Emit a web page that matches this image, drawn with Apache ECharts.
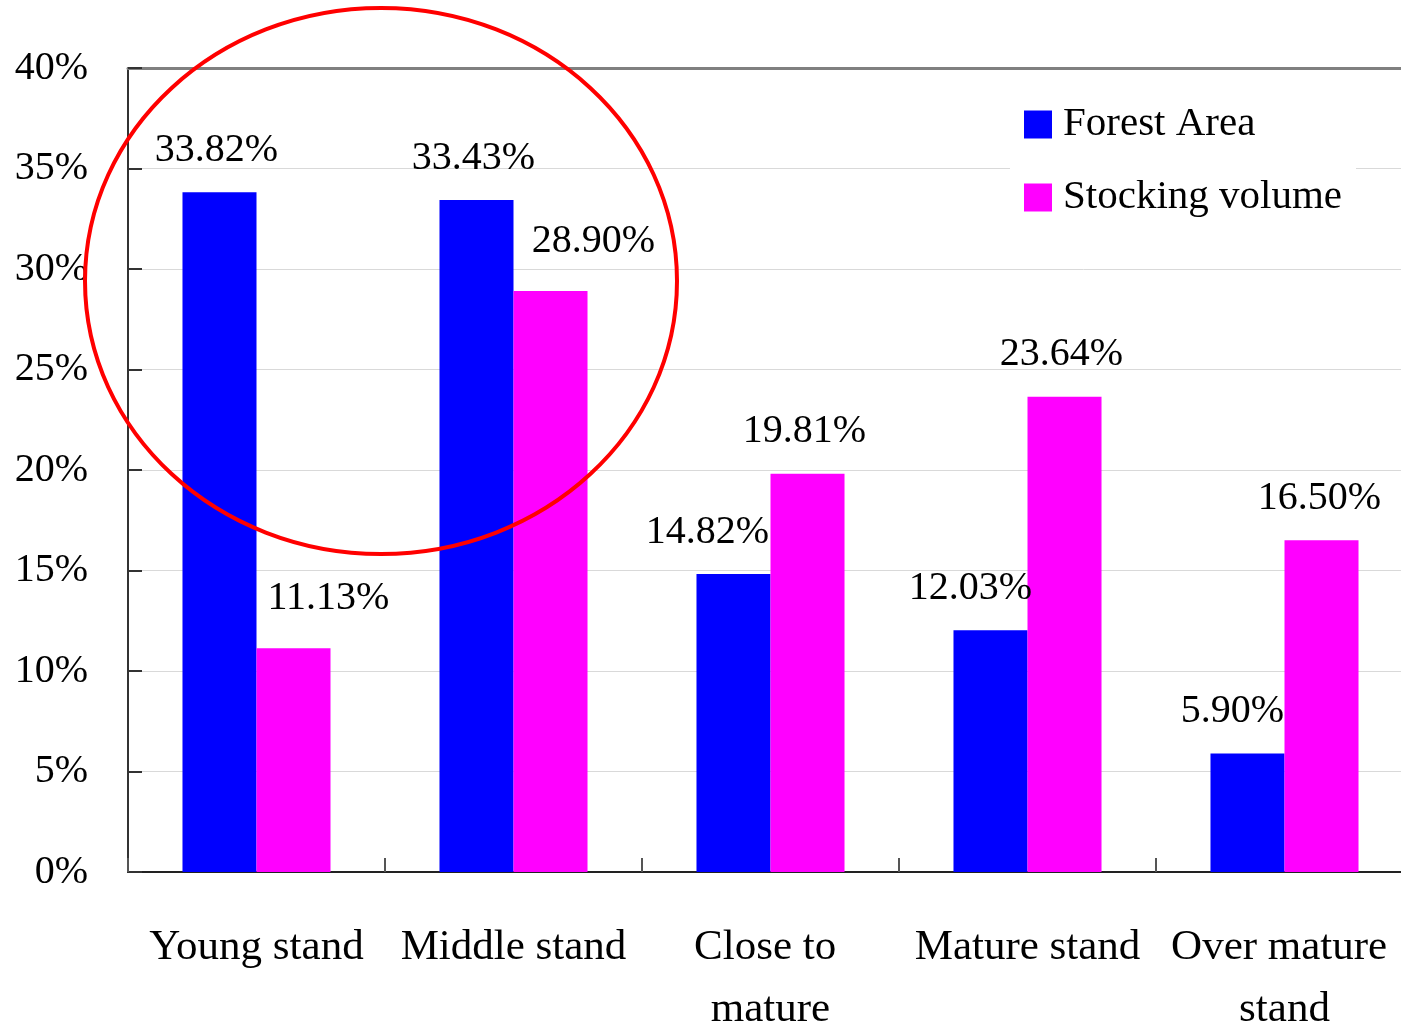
<!DOCTYPE html>
<html>
<head>
<meta charset="utf-8">
<script src="https://cdn.jsdelivr.net/npm/echarts@6/dist/echarts.min.js"></script>
<style>
html,body{margin:0;padding:0;background:#fff;overflow:hidden;}
#chart{width:1401px;height:1027px;}
</style>
</head>
<body>
<div id="chart"></div>
<script>
var categories = ['Young stand', 'Middle stand', 'Close to mature', 'Mature stand', 'Over mature stand'];
var forestArea = [33.82, 33.43, 14.82, 12.03, 5.90];
var stockingVolume = [11.13, 28.90, 19.81, 23.64, 16.50];
var seriesNames = ['Forest Area', 'Stocking volume'];
var yTicks = [0, 5, 10, 15, 20, 25, 30, 35, 40];

// label nudges (presentation only)
var forestLabelDx = [-3, -3, -26, -20, -15];
var forestLabelDy = [0, 0, 0, 0, 0];
var stockLabelDx = [35, 43, -3, -3, -2];
var stockLabelDy = [-8, -8, 0, 0, 0];

var FONT = '"Liberation Serif", "Times New Roman", serif';

function mkData(vals, dx, dy) {
  return vals.map(function (v, i) {
    return { value: v, label: { offset: [dx[i], dy[i]] } };
  });
}

var chart = echarts.init(document.getElementById('chart'), null, { renderer: 'canvas', width: 1401, height: 1027 });

var labelCommon = {
  show: true,
  position: 'top',
  distance: 22,
  fontFamily: FONT,
  fontSize: 40,
  color: '#000',
  formatter: function (p) { return p.value.toFixed(2) + '%'; }
};

chart.setOption({
  backgroundColor: '#fff',
  animation: false,
  grid: { left: 128, top: 68, width: 1285, height: 804, containLabel: false, outerBoundsMode: 'none' },
  legend: {
    orient: 'vertical',
    left: 1010,
    top: 89,
    padding: [15, 14, 15, 14],
    backgroundColor: '#fff',
    itemWidth: 28,
    itemHeight: 28,
    itemGap: 32,
    icon: 'rect',
    data: seriesNames,
    textStyle: { fontFamily: FONT, fontSize: 41, color: '#000', padding: [4, 0, 0, 6] }
  },
  xAxis: [{
    type: 'category',
    data: categories,
    position: 'bottom',
    axisLine: { lineStyle: { color: '#222', width: 2 } },
    axisTick: { show: true, inside: true, length: 14, alignWithLabel: false, lineStyle: { color: '#555', width: 2 } },
    axisLabel: {
      interval: 0,
      margin: 45,
      fontFamily: FONT,
      fontSize: 43,
      color: '#000',
      lineHeight: 62,
      width: 245,
      overflow: 'break'
    },
    splitLine: { show: false }
  }, {
    type: 'category',
    data: categories,
    position: 'top',
    axisLine: { show: true, lineStyle: { color: '#808080', width: 3 } },
    axisTick: { show: false },
    axisLabel: { show: false },
    splitLine: { show: false }
  }],
  yAxis: {
    type: 'value',
    min: 0,
    max: 40,
    interval: 5,
    axisLine: { show: true, lineStyle: { color: '#333', width: 2 } },
    axisTick: { show: true, inside: true, length: 14, lineStyle: { color: '#333', width: 2 } },
    axisLabel: {
      margin: 40,
      fontFamily: FONT,
      fontSize: 40,
      color: '#000',
      formatter: function (v) { return yTicks.indexOf(v) >= 0 ? v + '%' : ''; }
    },
    splitLine: { show: true, lineStyle: { color: '#d9d9d9', width: 1 } }
  },
  series: [{
    name: seriesNames[0],
    type: 'bar',
    data: mkData(forestArea, forestLabelDx, forestLabelDy),
    itemStyle: { color: '#0000ff' },
    barGap: '0%',
    barCategoryGap: '42.4%',
    label: labelCommon,
    z: 2
  }, {
    name: seriesNames[1],
    type: 'bar',
    data: mkData(stockingVolume, stockLabelDx, stockLabelDy),
    itemStyle: { color: '#ff00ff' },
    barGap: '0%',
    barCategoryGap: '42.4%',
    label: labelCommon,
    z: 2
  }],
  graphic: [{
    type: 'ellipse',
    shape: { cx: 381, cy: 281, rx: 296, ry: 273 },
    style: { fill: 'none', stroke: '#ff0000', lineWidth: 4 },
    z: 100
  }]
});
</script>
</body>
</html>
